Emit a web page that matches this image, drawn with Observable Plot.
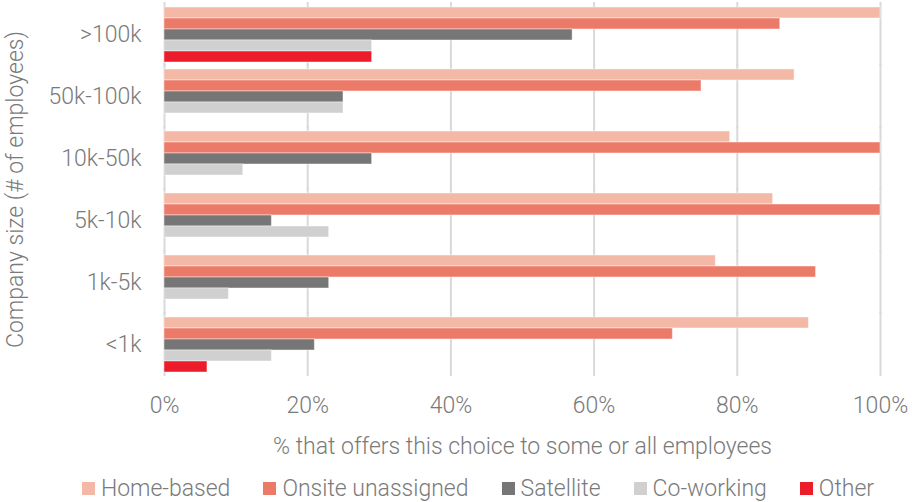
<!DOCTYPE html>
<html>
<head>
<meta charset="utf-8">
<script src="https://cdn.jsdelivr.net/npm/d3@7"></script>
<script src="https://cdn.jsdelivr.net/npm/@observablehq/plot@0.6"></script>
<style>
  body { margin: 0; background: #fff; }
  #chart { width: 912px; }
  .legend { display: flex; justify-content: center; align-items: center; gap: 33px;
    font-family: Roboto, "Liberation Sans", sans-serif; font-weight: 300; font-size: 23px; color: #7a7a7a;
    height: 28px; margin-top: 12px; padding-left: 44px; white-space: nowrap; box-sizing: border-box; width: 912px; }
  .legend span.item { display: flex; align-items: center; gap: 6px; }
  .legend span.sw { width: 13px; height: 13px; display: inline-block; }
</style>
</head>
<body>
<div id="chart"></div>
<script>
const sizes = [">100k", "50k-100k", "10k-50k", "5k-10k", "1k-5k", "<1k"];
const series = ["Home-based", "Onsite unassigned", "Satellite", "Co-working", "Other"];
const colors = ["#F4B8A7", "#EC7A69", "#767676", "#D0D0D0", "#EC1C2B"];
const homeBased        = [100, 88, 79, 85, 77, 90];
const onsiteUnassigned = [86, 75, 100, 100, 91, 71];
const satellite        = [57, 25, 29, 15, 23, 21];
const coWorking        = [29, 25, 11, 23, 9, 15];
const other            = [29, null, null, null, null, 6];
const xTicks = [0, 20, 40, 60, 80, 100];

const seriesValues = [homeBased, onsiteUnassigned, satellite, coWorking, other];
const data = [];
sizes.forEach((s, i) => series.forEach((k, j) => {
  const v = seriesValues[j][i];
  if (v != null) data.push({size: s, series: k, value: v});
}));

const chart = Plot.plot({
  width: 912,
  height: 462,
  marginLeft: 164,
  marginRight: 32,
  marginTop: 4,
  marginBottom: 89,
  style: {fontFamily: "Roboto, 'Liberation Sans', sans-serif", fontWeight: 300, fontSize: "23px", color: "#7a7a7a", background: "#fff"},
  x: {domain: [0, 100], ticks: xTicks, tickFormat: d => d + "%", tickSize: 0, tickPadding: 23,
      label: "% that offers this choice to some or all employees", labelArrow: "none", labelAnchor: "center", labelOffset: 80},
  fy: {domain: sizes, paddingInner: 0.07, paddingOuter: 0, tickSize: 0, tickPadding: 23,
      label: "Company size (# of employees)", labelAnchor: "center", labelOffset: 158},
  y: {domain: series, padding: 0, axis: null},
  color: {domain: series, range: colors},
  marks: [
    Plot.ruleX(xTicks, {stroke: "#d9d9d9", strokeWidth: 2, insetTop: -3, insetBottom: -3}),
    Plot.barX(data, {x: "value", y: "series", fy: "size", fill: "series", stroke: "#fff", strokeOpacity: 0.45, strokeWidth: 1})
  ]
});
document.getElementById("chart").appendChild(chart);

const legend = document.createElement("div");
legend.className = "legend";
series.forEach((k, j) => {
  const item = document.createElement("span");
  item.className = "item";
  const sw = document.createElement("span");
  sw.className = "sw";
  sw.style.background = colors[j];
  item.appendChild(sw);
  item.appendChild(document.createTextNode(k));
  legend.appendChild(item);
});
document.getElementById("chart").appendChild(legend);
</script>
</body>
</html>
